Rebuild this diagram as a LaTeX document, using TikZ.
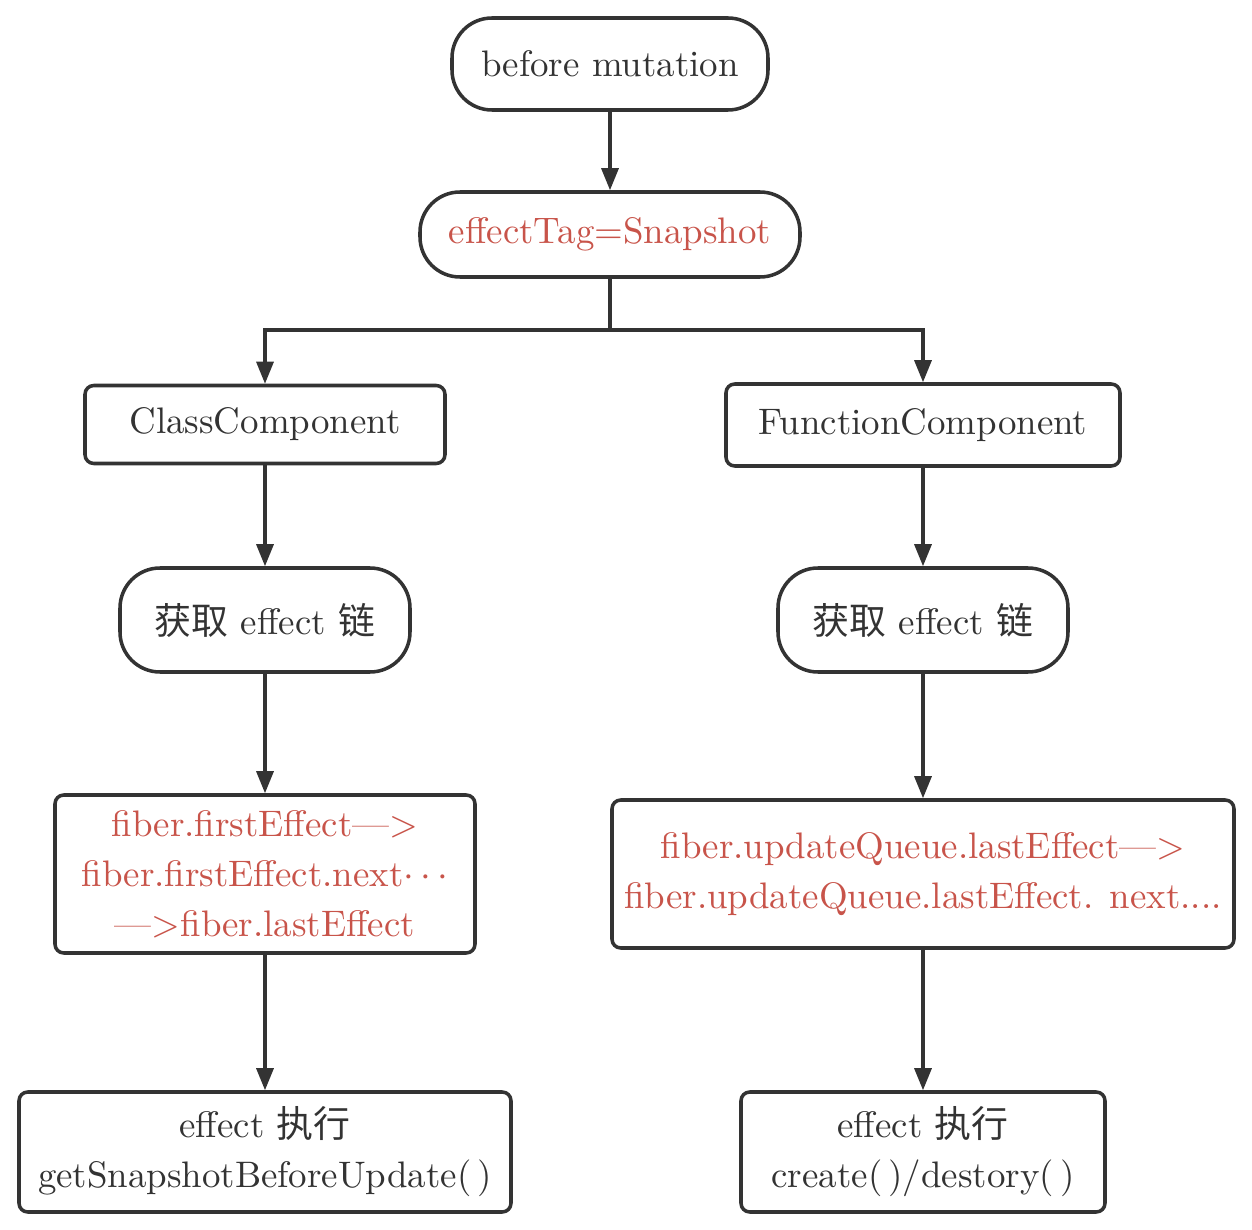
\documentclass[tikz,border=0pt]{standalone}
\usepackage{fontspec}
\newfontfamily\cjk{Noto Sans CJK SC}
\usetikzlibrary{arrows.meta}
\definecolor{ink}{HTML}{333333}
\definecolor{hl}{HTML}{C8544A}
\begin{document}
\begin{tikzpicture}[
    every node/.style={font=\fontsize{10.5pt}{14.2pt}\selectfont, text=ink, inner sep=0pt, align=center},
    pill/.style={draw=ink, line width=1pt, rectangle, rounded corners=0.4cm},
    box/.style={draw=ink, line width=1pt, rectangle, rounded corners=2.5pt},
    arr/.style={draw=ink, line width=0.9pt, -{Triangle[length=0.22cm,width=0.17cm]}}
  ]
  \useasboundingbox (0,0) rectangle (12.52,-12.30);

  \node [pill, minimum width=3.16cm, minimum height=0.92cm] (BM) at (6.10,-0.64) {before mutation};
  \node [pill, minimum width=3.80cm, minimum height=0.85cm, text=hl] (ET) at (6.10,-2.345) {effectTag=Snapshot};
  \coordinate (S) at (6.10,-3.30);

  \node [box, minimum width=3.60cm, minimum height=0.78cm] (CC) at (2.65,-4.245) {ClassComponent};
  \node [pill, minimum width=2.90cm, minimum height=1.04cm] (GL) at (2.65,-6.20) {{\cjk 获取} effect {\cjk 链}};
  \node [box, minimum width=4.20cm, minimum height=1.58cm, text=hl] (FL) at (2.65,-8.74)
    {fiber.firstEffect---{>}\\fiber.firstEffect.next$\cdots$\\---{>}fiber.lastEffect};
  \node [box, minimum width=4.92cm, minimum height=1.20cm] (EL) at (2.65,-11.52)
    {effect {\cjk 执行}\\getSnapshotBeforeUpdate(\,)};

  \node [box, minimum width=3.94cm, minimum height=0.82cm] (FC) at (9.23,-4.25) {FunctionComponent};
  \node [pill, minimum width=2.90cm, minimum height=1.04cm] (GR) at (9.23,-6.20) {{\cjk 获取} effect {\cjk 链}};
  \node [box, minimum width=6.22cm, minimum height=1.48cm, text=hl] (FR) at (9.23,-8.74)
    {fiber.updateQueue.lastEffect---{>}\\fiber.updateQueue.lastEffect. next....};
  \node [box, minimum width=3.64cm, minimum height=1.20cm] (ER) at (9.23,-11.52)
    {effect {\cjk 执行}\\create(\,)/destory(\,)};

  \draw [arr] (BM) -- (ET);
  \draw [draw=ink, line width=0.9pt] (ET) -- (S);
  \draw [arr] (S) -| (CC);
  \draw [arr] (S) -| (FC);
  \draw [arr] (CC) -- (GL);
  \draw [arr] (GL) -- (FL);
  \draw [arr] (FL) -- (EL);
  \draw [arr] (FC) -- (GR);
  \draw [arr] (GR) -- (FR);
  \draw [arr] (FR) -- (ER);
\end{tikzpicture}
\end{document}
